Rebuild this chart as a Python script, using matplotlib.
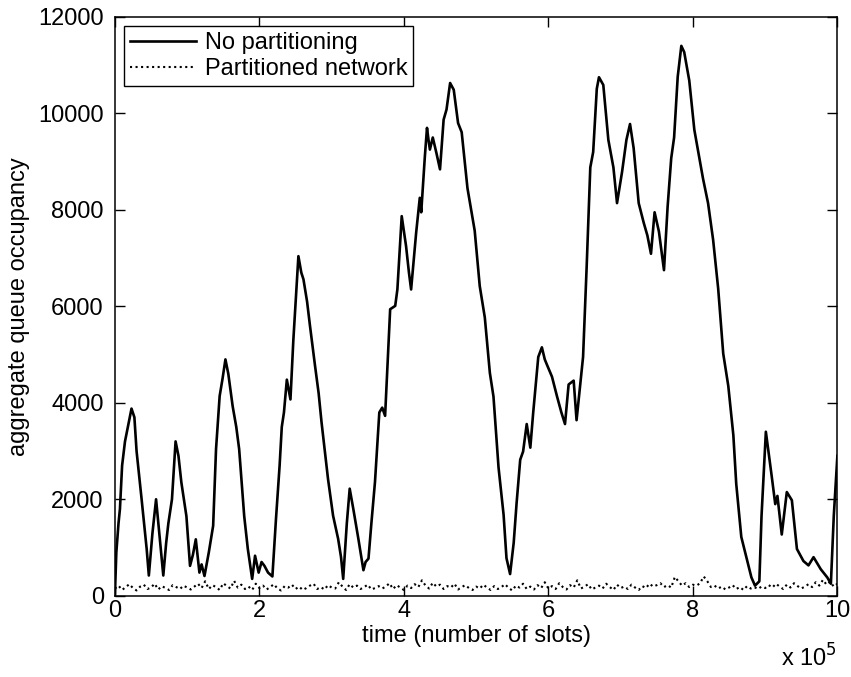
import numpy as np
import matplotlib
matplotlib.use("Agg")
import matplotlib.pyplot as plt

plt.rcParams['font.family'] = ['Liberation Sans', 'DejaVu Sans']

# time in units of 1e5 slots, aggregate queue occupancy (no partitioning)
t_nopart = [0.00, 0.02, 0.05, 0.07, 0.10, 0.14, 0.18, 0.23, 0.27, 0.30,
            0.37, 0.44, 0.47, 0.52, 0.57, 0.62, 0.67, 0.71, 0.74, 0.79,
            0.84, 0.88, 0.92, 0.99, 1.04, 1.08, 1.12, 1.17, 1.20, 1.24,
            1.30, 1.36, 1.40, 1.45, 1.49, 1.53, 1.57, 1.63, 1.68, 1.72,
            1.79, 1.84, 1.90, 1.94, 1.99, 2.03, 2.07, 2.12, 2.18, 2.23,
            2.28, 2.31, 2.34, 2.38, 2.43, 2.47, 2.51, 2.54, 2.58, 2.61,
            2.66, 2.70, 2.77, 2.82, 2.86, 2.95, 3.02, 3.09, 3.13, 3.16,
            3.21, 3.25, 3.30, 3.37, 3.44, 3.47, 3.51, 3.55, 3.60, 3.66,
            3.70, 3.74, 3.81, 3.88, 3.91, 3.97, 4.03, 4.07, 4.10, 4.17,
            4.22, 4.24, 4.29, 4.32, 4.34, 4.36, 4.40, 4.45, 4.50, 4.55,
            4.59, 4.64, 4.69, 4.75, 4.80, 4.88, 4.98, 5.05, 5.12, 5.19,
            5.24, 5.31, 5.38, 5.42, 5.47, 5.52, 5.56, 5.61, 5.65, 5.70,
            5.75, 5.79, 5.86, 5.91, 5.95, 5.98, 6.05, 6.12, 6.18, 6.23,
            6.28, 6.35, 6.39, 6.44, 6.48, 6.53, 6.58, 6.62, 6.67, 6.70,
            6.76, 6.83, 6.90, 6.95, 7.02, 7.08, 7.13, 7.18, 7.25, 7.32,
            7.37, 7.42, 7.47, 7.53, 7.60, 7.65, 7.70, 7.74, 7.79, 7.84,
            7.88, 7.95, 8.02, 8.09, 8.14, 8.21, 8.28, 8.35, 8.42, 8.49,
            8.56, 8.60, 8.67, 8.74, 8.81, 8.86, 8.92, 8.95, 9.01, 9.09,
            9.14, 9.17, 9.23, 9.30, 9.37, 9.44, 9.53, 9.60, 9.67, 9.77,
            9.86, 9.91, 9.95, 10.00]
q_nopart = [0, 900, 1500, 1800, 2700, 3200, 3500, 3880, 3700, 3000,
            2000, 970, 420, 1300, 2000, 1200, 420, 1100, 1500, 2000,
            3200, 2900, 2350, 1650, 620, 850, 1170, 480, 650, 410,
            900, 1450, 3040, 4140, 4500, 4900, 4600, 3930, 3500, 3040,
            1650, 970, 350, 830, 480, 700, 620, 480, 400, 1600,
            2700, 3500, 3800, 4480, 4070, 5300, 6300, 7040, 6700, 6560,
            6100, 5600, 4770, 4200, 3600, 2420, 1660, 1180, 800, 350,
            1500, 2220, 1800, 1180, 530, 700, 770, 1500, 2360, 3800,
            3900, 3730, 5940, 6010, 6350, 7870, 7250, 6700, 6350, 7530,
            8250, 7950, 9100, 9700, 9460, 9250, 9500, 9180, 8840, 9870,
            10080, 10630, 10490, 9800, 9610, 8450, 7570, 6420, 5770, 4620,
            4130, 2660, 1680, 780, 450, 1100, 1920, 2820, 2990, 3560,
            3070, 3800, 4950, 5150, 4900, 4790, 4540, 4130, 3800, 3560,
            4380, 4460, 3640, 4380, 4950, 6830, 8880, 9200, 10510, 10750,
            10590, 9450, 8880, 8140, 8790, 9450, 9780, 9280, 8140, 7730,
            7470, 7090, 7950, 7550, 6750, 8060, 9070, 9500, 10760, 11400,
            11270, 10680, 9660, 9070, 8650, 8140, 7380, 6370, 5020, 4350,
            3330, 2320, 1220, 800, 380, 210, 300, 1650, 3400, 2490,
            1900, 2070, 1270, 2150, 1980, 970, 720, 630, 800, 550,
            380, 250, 1650, 2900]

# partitioned network, sampled every 0.05 x 1e5 slots
t_part = np.arange(201) * 0.05
q_part = [150, 210, 120, 180, 240, 160, 110, 190, 230, 140, 170, 250, 130, 200, 160, 120, 220, 180, 140, 210, 170,
          130, 190, 250, 160, 300, 140, 220, 180, 120, 260, 200, 150, 310, 170, 230, 140, 190, 120, 250, 160,
          210, 130, 180, 240, 150, 110, 200, 170, 230, 140, 190, 120, 160, 210, 250, 140, 180, 130, 220, 170,
          150, 280, 190, 120, 240, 170, 210, 140, 180, 230, 130, 160, 200, 150, 190, 260, 140, 220, 170, 120,
          210, 160, 240, 180, 320, 210, 150, 270, 190, 230, 140, 200, 170, 250, 130, 180, 220, 160, 120, 190,
          150, 230, 170, 120, 200, 140, 180, 240, 160, 110, 210, 170, 250, 140, 190, 130, 220, 160, 280, 150,
          200, 140, 260, 180, 130, 220, 170, 320, 150, 190, 240, 130, 170, 210, 150, 250, 180, 120, 230, 160,
          190, 140, 230, 170, 120, 200, 160, 250, 190, 220, 260, 180, 220, 170, 390, 300, 210, 260, 180, 230,
          210, 260, 400, 300, 180, 210, 150, 190, 130, 170, 220, 140, 180, 120, 200, 150, 180, 140, 190, 160,
          220, 170, 250, 190, 140, 230, 170, 260, 200, 150, 190, 240, 180, 280, 210, 330, 230, 290, 190, 250]

x_ticks = [0, 2, 4, 6, 8, 10]
y_ticks = [0, 2000, 4000, 6000, 8000, 10000, 12000]

FS = 17

fig = plt.figure(figsize=(8.51, 6.77), dpi=100)
ax = fig.add_axes([0.135, 0.12, 0.849, 0.855])

ax.plot(t_nopart, q_nopart, color="black", lw=1.9, label="No partitioning")
ax.plot(t_part, q_part, color="black", lw=1.5, ls=":", label="Partitioned network")

ax.set_xlim(0, 10)
ax.set_ylim(0, 12000)
ax.set_xticks(x_ticks)
ax.set_yticks(y_ticks)
ax.tick_params(direction="in", top=True, right=True, labelsize=FS, length=7, width=1)
ax.tick_params(axis="y", pad=8)
ax.tick_params(axis="x", pad=3)
for s in ax.spines.values():
    s.set_linewidth(1.1)

ax.set_xlabel("time (number of slots)", fontsize=FS, labelpad=2)
ax.set_ylabel("aggregate queue occupancy", fontsize=FS, labelpad=6)
ax.text(1.0, -0.122, r"x 10$^5$", transform=ax.transAxes, ha="right", va="baseline", fontsize=FS)

leg = ax.legend(loc="upper left", bbox_to_anchor=(0, 1), borderaxespad=0.4,
                fontsize=FS, handlelength=2.8, fancybox=False, framealpha=1,
                edgecolor="black", borderpad=0.25, labelspacing=0.15, handletextpad=0.35)
leg.get_frame().set_linewidth(1.0)

fig.savefig("out.png", dpi=100)
